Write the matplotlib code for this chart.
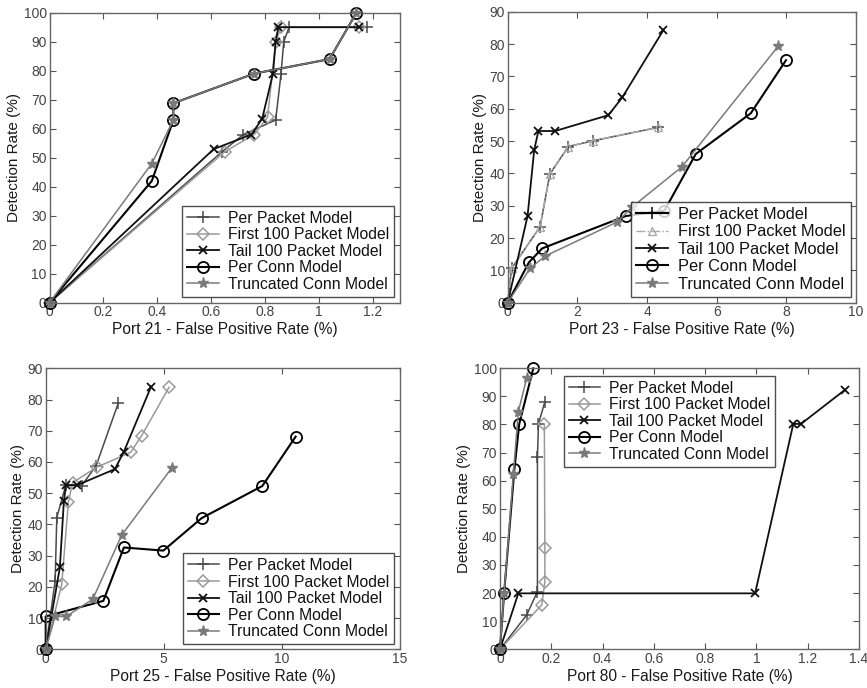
import matplotlib
matplotlib.use("Agg")
import matplotlib.pyplot as plt

plt.rcParams['font.family'] = ['Liberation Sans', 'DejaVu Sans']

labels = ["Per Packet Model", "First 100 Packet Model", "Tail 100 Packet Model",
          "Per Conn Model", "Truncated Conn Model"]

# ---------- Port 21 ----------
p21_pp_x = [0, 0.64, 0.72, 0.84, 0.86, 0.87, 0.89, 1.18]
p21_pp_y = [0, 52, 58, 63, 79, 90, 95, 95]
p21_f1_x = [0, 0.65, 0.76, 0.81, 0.84, 0.86, 1.15]
p21_f1_y = [0, 52, 58, 64, 90, 95, 95]
p21_tl_x = [0, 0.61, 0.75, 0.79, 0.83, 0.84, 0.85, 1.15]
p21_tl_y = [0, 53, 58, 63.5, 79, 90, 95, 95]
p21_pc_x = [0, 0.38, 0.46, 0.46, 0.76, 1.04, 1.14]
p21_pc_y = [0, 42, 63, 68.8, 79, 84, 100]
p21_tr_x = [0, 0.38, 0.46, 0.46, 0.76, 1.04, 1.14]
p21_tr_y = [0, 48, 63, 68.8, 79, 84, 100]

# ---------- Port 23 ----------
p23_pp_x = [0, 0.11, 0.93, 1.21, 1.74, 2.46, 4.31]
p23_pp_y = [0, 10.6, 23.5, 39.8, 48.3, 50.1, 54.2]
p23_f1_x = [0, 0.11, 0.93, 1.21, 1.74, 2.46, 4.31]
p23_f1_y = [0, 10.6, 23.5, 39.8, 48.3, 50.1, 54.2]
p23_tl_x = [0, 0.57, 0.76, 0.88, 1.36, 2.89, 3.29, 4.47]
p23_tl_y = [0, 26.8, 47.2, 53.1, 53.1, 58, 63.5, 84.3]
p23_pc_x = [0, 0.61, 0.99, 3.39, 4.5, 5.4, 6.98, 7.99]
p23_pc_y = [0, 12.5, 16.8, 26.8, 28.5, 46, 58.6, 75]
p23_tr_x = [0, 0.64, 1.07, 3.15, 3.56, 5.0, 7.77]
p23_tr_y = [0, 10.6, 14.4, 25, 29.5, 42, 79.4]

# ---------- Port 25 ----------
p25_pp_x = [0, 0.4, 0.47, 0.85, 1.52, 2.13, 3.07]
p25_pp_y = [0, 21.9, 42.2, 52.5, 52.4, 58.7, 78.8]
p25_f1_x = [0, 0.68, 0.96, 1.14, 2.16, 3.6, 4.06, 5.22]
p25_f1_y = [0, 20.8, 47.1, 53.4, 58.3, 63.1, 68.4, 83.9]
p25_tl_x = [0, 0.6, 0.77, 0.86, 1.34, 2.93, 3.31, 4.46]
p25_tl_y = [0, 26.2, 47.5, 52.6, 52.6, 57.7, 63.3, 84.1]
p25_pc_x = [0, 0, 2.44, 3.31, 4.98, 6.6, 9.17, 10.58]
p25_pc_y = [0, 10.5, 15.5, 32.6, 31.6, 42, 52.3, 68.1]
p25_tr_x = [0, 0.4, 0.86, 1.99, 3.22, 5.33]
p25_tr_y = [0, 10.5, 10.5, 16, 36.6, 58]

# ---------- Port 80 ----------
p80_pp_x = [0, 0.104, 0.146, 0.146, 0.15, 0.175]
p80_pp_y = [0, 12.2, 20.5, 68.3, 80.2, 88.1]
p80_f1_x = [0, 0.163, 0.175, 0.175, 0.173]
p80_f1_y = [0, 15.8, 24.1, 35.9, 80.2]
p80_tl_x = [0, 0.0715, 0.995, 1.144, 1.174, 1.345]
p80_tl_y = [0, 19.9, 19.9, 80.2, 80.2, 92.3]
p80_pc_x = [0, 0.016, 0.056, 0.075, 0.13]
p80_pc_y = [0, 19.9, 64, 80.2, 100]
p80_tr_x = [0, 0.016, 0.052, 0.0715, 0.104]
p80_tr_y = [0, 19.9, 62.3, 84.6, 96.4]

fig = plt.figure(figsize=(8.67, 6.88), dpi=100)

axes_pos = [
    [0.0571, 0.560, 0.4037, 0.4215],
    [0.5856, 0.560, 0.4017, 0.4230],
    [0.0527, 0.0563, 0.4087, 0.4084],
    [0.5767, 0.0563, 0.4140, 0.4084],
]

C_PP = '#4a4a4a'
C_F1 = '#9a9a9a'
C_TL = '#101010'
C_PC = '#000000'
C_TR = '#7a7a7a'


def draw(ax, data, first_style='diamond'):
    (ppx, ppy), (f1x, f1y), (tlx, tly), (pcx, pcy), (trx, try_) = data
    ax.plot(ppx, ppy, color=C_PP, lw=1.1, marker='+', ms=9, mew=1.1, label=labels[0])
    if first_style == 'diamond':
        ax.plot(f1x, f1y, color=C_F1, lw=1.1, marker='D', ms=6, mfc='none',
                mec=C_F1, mew=1.1, label=labels[1])
    else:
        ax.plot(f1x, f1y, color='#aaaaaa', lw=1.0, ls='-.', marker='^', ms=6,
                mfc='none', mec='#aaaaaa', mew=1.0, label=labels[1])
    ax.plot(tlx, tly, color=C_TL, lw=1.3, marker='x', ms=6, mew=1.3, label=labels[2])
    ax.plot(pcx, pcy, color=C_PC, lw=1.5, marker='o', ms=8, mfc='none',
            mec=C_PC, mew=1.3, label=labels[3])
    ax.plot(trx, try_, color=C_TR, lw=1.1, marker='*', ms=8, mfc=C_TR,
            mec=C_TR, label=labels[4])


def style(ax, xlim, xticks, xtl, ylim, yticks, xlabel):
    ax.set_xlim(*xlim)
    ax.set_ylim(*ylim)
    ax.set_xticks(xticks)
    ax.set_xticklabels(xtl)
    ax.set_yticks(yticks)
    ax.tick_params(direction='in', top=True, right=True, length=4,
                   labelsize=10, colors='#555555', labelcolor='#444444', pad=2)
    for s in ax.spines.values():
        s.set_color('#666666')
        s.set_linewidth(1.0)
    ax.set_xlabel(xlabel, fontsize=11.2, color='#1a1a1a', labelpad=2)
    ax.set_ylabel('Detection Rate (%)', fontsize=11, color='#1a1a1a', labelpad=2)


def legend(ax, loc, anchor, black_pp=False, fs=11.3, ls=0.1):
    leg = ax.legend(loc=loc, bbox_to_anchor=anchor, borderaxespad=0,
                    fontsize=fs, frameon=True, fancybox=False,
                    handlelength=2.0, labelspacing=ls, borderpad=0.3,
                    handletextpad=0.6)
    leg.get_frame().set_edgecolor('#222222')
    leg.get_frame().set_linewidth(1.0)
    for t in leg.get_texts():
        t.set_color('#111111')
    if black_pp:
        h = leg.legend_handles[0]
        h.set_color('black')
        h.set_linewidth(1.6)
    return leg


ax1 = fig.add_axes(axes_pos[0])
draw(ax1, [(p21_pp_x, p21_pp_y), (p21_f1_x, p21_f1_y), (p21_tl_x, p21_tl_y),
           (p21_pc_x, p21_pc_y), (p21_tr_x, p21_tr_y)])
style(ax1, (0, 1.3), [0, 0.2, 0.4, 0.6, 0.8, 1.0, 1.2],
      ['0', '0.2', '0.4', '0.6', '0.8', '1', '1.2'],
      (0, 100), range(0, 101, 10), 'Port 21 - False Positive Rate (%)')
legend(ax1, 'lower right', (0.984, 0.021))

ax2 = fig.add_axes(axes_pos[1])
draw(ax2, [(p23_pp_x, p23_pp_y), (p23_f1_x, p23_f1_y), (p23_tl_x, p23_tl_y),
           (p23_pc_x, p23_pc_y), (p23_tr_x, p23_tr_y)], first_style='triangle')
style(ax2, (0, 10), [0, 2, 4, 6, 8, 10], ['0', '2', '4', '6', '8', '10'],
      (0, 90), range(0, 91, 10), 'Port 23 - False Positive Rate (%)')
legend(ax2, 'lower right', (0.985, 0.021), black_pp=True, fs=11.8, ls=0.15)

ax3 = fig.add_axes(axes_pos[2])
draw(ax3, [(p25_pp_x, p25_pp_y), (p25_f1_x, p25_f1_y), (p25_tl_x, p25_tl_y),
           (p25_pc_x, p25_pc_y), (p25_tr_x, p25_tr_y)])
style(ax3, (0, 15), [0, 5, 10, 15], ['0', '5', '10', '15'],
      (0, 90), range(0, 91, 10), 'Port 25 - False Positive Rate (%)')
legend(ax3, 'lower right', (0.984, 0.019))

ax4 = fig.add_axes(axes_pos[3])
draw(ax4, [(p80_pp_x, p80_pp_y), (p80_f1_x, p80_f1_y), (p80_tl_x, p80_tl_y),
           (p80_pc_x, p80_pc_y), (p80_tr_x, p80_tr_y)])
style(ax4, (0, 1.4), [0, 0.2, 0.4, 0.6, 0.8, 1.0, 1.2, 1.4],
      ['0', '0.2', '0.4', '0.6', '0.8', '1', '1.2', '1.4'],
      (0, 100), range(0, 101, 10), 'Port 80 - False Positive Rate (%)')
legend(ax4, 'upper left', (0.178, 0.973))

for ax in (ax1, ax2, ax3, ax4):
    for ln in ax.get_lines():
        ln.set_clip_on(False)

fig.savefig('out.png', dpi=100)
